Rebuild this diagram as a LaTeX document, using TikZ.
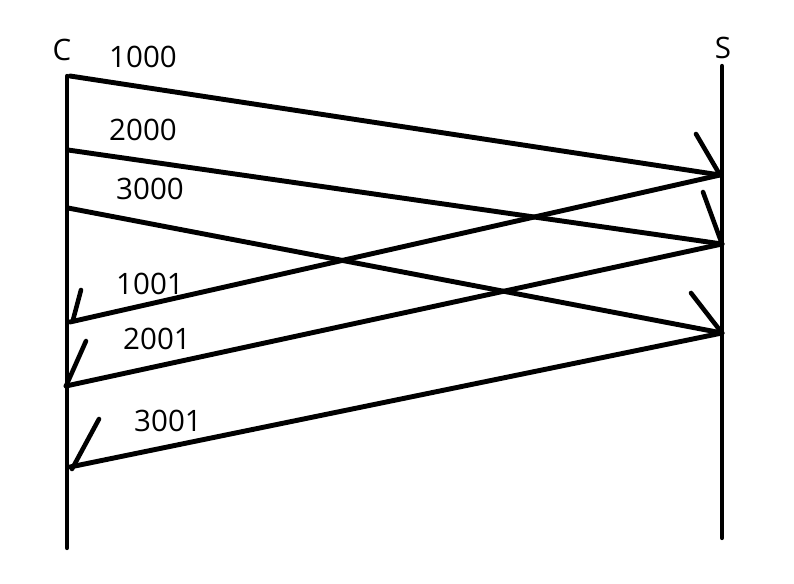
\documentclass[tikz,border=0pt]{standalone}
\usepackage{fontspec}
\setmainfont{Open Sans}
\usepackage{tikz}
\usetikzlibrary{positioning, calc}

\begin{document}
\begin{tikzpicture}[
        x=0.02cm, y=-0.02cm,
        lifeline/.style={line width=2.4pt, line cap=round},
        msg/.style={line width=2.8pt, line cap=round},
        tick/.style={line width=2.6pt, line cap=round},
        lbl/.style={font=\fontsize{16.8}{19}\selectfont, inner sep=0pt}
    ]

    \useasboundingbox (0,0) rectangle (794,584);

    % lifelines
    \node[lbl] (client) at (62,50) {C};
    \node[lbl] (server) at (723,48) {S};
    \coordinate (cTop) at (67,76);
    \coordinate (cBot) at (67,548);
    \coordinate (sTop) at (722,66);
    \coordinate (sBot) at (722,538);
    \draw[lifeline] (cTop) -- (cBot);
    \draw[lifeline] (sTop) -- (sBot);

    % points on the lifelines
    \coordinate (c1) at (70,76);
    \coordinate (c2) at (68,150);
    \coordinate (c3) at (68,208);
    \coordinate (s1) at (720,175);
    \coordinate (s2) at (722,244);
    \coordinate (s3) at (722,333);
    \coordinate (a1) at (70,322);
    \coordinate (a2) at (66,386);
    \coordinate (a3) at (70,467);

    % requests
    \draw[msg] (c1) -- (s1);
    \draw[msg] (c2) -- (s2);
    \draw[msg] (c3) -- (s3);
    \draw[tick] (696,134) -- (s1);
    \draw[tick] (703,192) -- (s2);
    \draw[tick] (691,293) -- (s3);

    % replies
    \draw[msg] (s1) -- (a1);
    \draw[msg] (s2) -- (a2);
    \draw[msg] (s3) -- (a3);
    \draw[tick] (81,290) -- (73,320);
    \draw[tick] (86,341) -- (a2);
    \draw[tick] (99,419) -- (72,469);

    \node[lbl] (seq1) at (143,57) {1000};
    \node[lbl] (seq2) at (143,130) {2000};
    \node[lbl] (seq3) at (150,189) {3000};
    \node[lbl] (ack1) at (150,284) {1001};
    \node[lbl] (ack2) at (157,339) {2001};
    \node[lbl] (ack3) at (168,421) {3001};

\end{tikzpicture}
\end{document}
